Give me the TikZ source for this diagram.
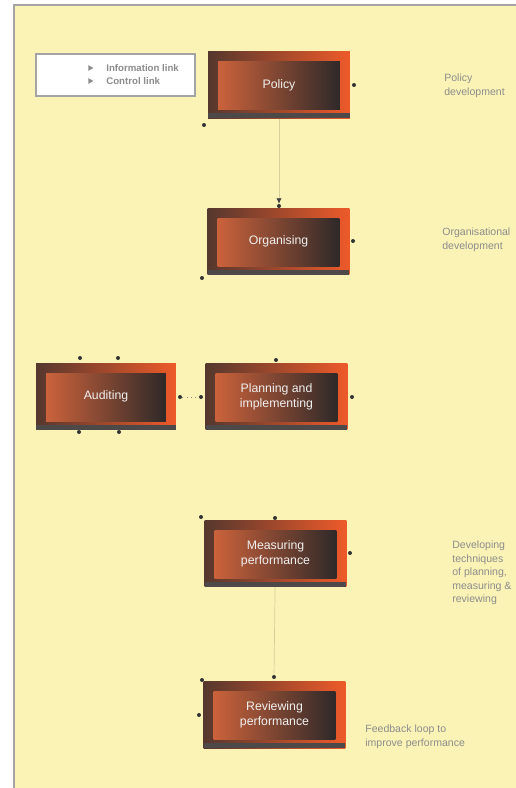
\documentclass[tikz,border=0pt]{standalone}
\usepackage{fontspec}
\setmainfont{Liberation Sans}
\usetikzlibrary{shapes.geometric,arrows.meta}

\definecolor{paper}{HTML}{FBF3B6}
\definecolor{rim}{HTML}{A4A4A4}
\definecolor{note}{HTML}{8C8C8C}
\definecolor{flame}{HTML}{EE5A2A}
\definecolor{soot}{HTML}{2E2929}
\definecolor{rust}{HTML}{CB623B}

\begin{document}
\begin{tikzpicture}[x=0.02cm, y=-0.02cm,
        stage/.style={minimum width=2.84cm, minimum height=1.33cm, inner sep=0pt,
            left color=soot!75!rust, right color=flame,
            text=white!88!gray, font=\fontsize{7}{8.5}\selectfont, align=center,
            path picture={
                \fill [soot!85] (path picture bounding box.south west) rectangle
                    ([yshift=0.1cm]path picture bounding box.south east);
                \shade [left color=rust, right color=soot]
                    ([shift={(0.2cm,0.17cm)}]path picture bounding box.south west) rectangle
                    ([shift={(-0.2cm,-0.2cm)}]path picture bounding box.north east);}},
        port/.style={circle, fill=black!80, inner sep=0pt, minimum size=0.08cm},
        remark/.style={anchor=north west, align=left, text=note, inner sep=0pt,
            font=\fontsize{6}{7.6}\selectfont},
        keytip/.style={isosceles triangle, isosceles triangle apex angle=60,
            fill=note, inner sep=0pt, minimum height=0.1cm},
        faint/.style={draw=paper!85!black, line width=0.4pt}]

    % sheet
    \useasboundingbox (0,0) rectangle (516,788);
    \fill [white] (0,0) rectangle (516,788);
    \fill [paper] (14,5) rectangle (516,788);
    \draw [rim, line width=0.6pt] (14,788) -- (14,5) -- (516,5);

    % legend
    \node [draw=rim, fill=white, line width=0.8pt, minimum width=3.18cm, minimum height=0.84cm] (key) at (115.5,75) {};
    \node [keytip] (keyA) at (90,68) {};
    \node [keytip] (keyB) at (90,81) {};
    \node [remark, anchor=west, font=\bfseries\fontsize{5.5}{6}\selectfont] (keyAtxt) at (106,68) {Information link};
    \node [remark, anchor=west, font=\bfseries\fontsize{5.5}{6}\selectfont] (keyBtxt) at (106,81) {Control link};

    % stages
    \node [stage] (pol) at (279,85) {Policy};
    \node [stage] (org) at (278.5,241.5) {Organising};
    \node [stage, minimum width=2.8cm] (aud) at (106,396.5) {Auditing};
    \node [stage] (pla) at (276.5,396.5) {Planning and\\implementing};
    \node [stage] (mea) at (275.5,553.5) {Measuring\\performance};
    \node [stage] (rev) at (274.5,715) {Reviewing\\performance};

    % ports
    \node [port] (polE) at (354,85) {};
    \node [port] (polSW) at (204,125) {};
    \node [port] (orgN) at (279,206) {};
    \node [port] (orgE) at (353,241) {};
    \node [port] (orgSW) at (202,278) {};
    \node [port] (audN1) at (80,358) {};
    \node [port] (audN2) at (118,358) {};
    \node [port] (audS1) at (79,432) {};
    \node [port] (audS2) at (119,432) {};
    \node [port] (audE) at (180,397) {};
    \node [port] (plaN) at (276,360) {};
    \node [port] (plaW) at (201,397) {};
    \node [port] (plaE) at (352,397) {};
    \node [port] (meaN) at (275,518) {};
    \node [port] (meaNW) at (201,517) {};
    \node [port] (meaE) at (350,553) {};
    \node [port] (revN) at (274,677) {};
    \node [port] (revNW) at (202,680) {};
    \node [port] (revW) at (199,715) {};

    % links
    \draw [faint, -{Latex[length=3pt, width=3pt, black!75]}] (pol) -- (orgN);
    \draw [note, dotted] (audE) -- (plaW);
    \draw [faint] (mea) -- (revN);

    % side notes
    \node [remark] (polTxt) at (444,74) {Policy\\development};
    \node [remark] (orgTxt) at (442,228) {Organisational\\development};
    \node [remark] (meaTxt) at (452,541) {Developing\\techniques\\of planning,\\measuring \&\\reviewing};
    \node [remark] (revTxt) at (365,725) {Feedback loop to\\improve performance};
\end{tikzpicture}
\end{document}
